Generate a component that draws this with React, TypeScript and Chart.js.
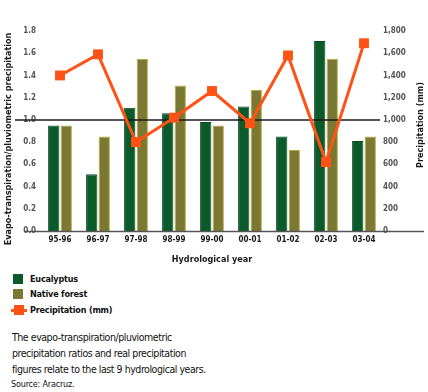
import React, { useEffect, useRef } from "react";
import { Chart, registerables } from "chart.js";

Chart.register(...registerables);

const categories = ["95-96", "96-97", "97-98", "98-99", "99-00", "00-01", "01-02", "02-03", "03-04"];
const eucalyptus = [0.95, 0.51, 1.11, 1.06, 0.98, 1.12, 0.85, 1.71, 0.81];
const nativeForest = [0.95, 0.85, 1.55, 1.31, 0.95, 1.27, 0.73, 1.55, 0.85];
const precipitation = [1400, 1590, 800, 1020, 1260, 970, 1580, 620, 1690];
const seriesNames = ["Eucalyptus", "Native forest", "Precipitation (mm)"];
const leftTitle = "Evapo-transpiration/pluviometric precipitation";
const rightTitle = "Precipitation (mm)";
const xTitle = "Hydrological year";
const captionLines = [
  "The evapo-transpiration/pluviometric",
  "precipitation ratios and real precipitation",
  "figures relate to the last 9 hydrological years.",
];
const sourceText = "Source: Aracruz.";

const GREEN = "#0b5a2a";
const OLIVE = "#7a7833";
const ORANGE = "#ff5214";
const FONT = "'DejaVu Sans Condensed', 'Liberation Sans Narrow', 'Liberation Sans', sans-serif";

function drawVerticalTitle(ctx: any, text: string, x: number, y: number) {
  ctx.save();
  ctx.translate(x, y);
  ctx.rotate(-Math.PI / 2);
  ctx.fillStyle = "#1a1a1a";
  ctx.font = "bold 9px " + FONT;
  ctx.textAlign = "center";
  ctx.textBaseline = "middle";
  ctx.fillText(text, 0, 0);
  ctx.restore();
}

const refLinesPlugin = {
  id: "refLines",
  beforeDatasetDraw(chart: any, args: any) {
    if (args.meta.type !== "line") return;
    const { ctx, chartArea, scales } = chart;
    const y1 = scales.y.getPixelForValue(1.0);
    ctx.save();
    ctx.strokeStyle = "#1a1a1a";
    ctx.lineWidth = 1.5;
    ctx.beginPath();
    ctx.moveTo(chartArea.left - 26, y1);
    ctx.lineTo(chartArea.right - 3, y1);
    ctx.stroke();
    ctx.restore();
  },
  afterDatasetsDraw(chart: any) {
    const { ctx, chartArea, scales } = chart;
    const y0 = scales.y.getPixelForValue(0);
    ctx.save();
    ctx.strokeStyle = "#555555";
    ctx.lineWidth = 1.5;
    ctx.beginPath();
    ctx.moveTo(chartArea.left - 16, y0 + 0.5);
    ctx.lineTo(chartArea.right + 41, y0 + 0.5);
    ctx.stroke();
    ctx.restore();
  },
  afterDraw(chart: any) {
    const { ctx, chartArea } = chart;
    const mid = (chartArea.top + chartArea.bottom) / 2;
    drawVerticalTitle(ctx, leftTitle, 9, mid + 8);
    drawVerticalTitle(ctx, rightTitle, chart.width - 7, mid - 6);
  },
};

export default function App() {
  const ref = useRef<HTMLCanvasElement | null>(null);
  useEffect(() => {
    if (!ref.current) return;
    const chart = new Chart(ref.current, {
      type: "bar",
      data: {
        labels: categories,
        datasets: [
          {
            type: "line",
            label: seriesNames[2],
            data: precipitation,
            yAxisID: "y1",
            borderColor: ORANGE,
            backgroundColor: ORANGE,
            borderWidth: 3,
            pointStyle: "rect",
            pointRadius: 7,
            pointBorderWidth: 0,
            tension: 0,
            order: 0,
          } as any,
          {
            type: "bar",
            label: seriesNames[0],
            data: eucalyptus,
            yAxisID: "y",
            backgroundColor: GREEN,
            borderColor: "#0a4a22",
            borderWidth: 1,
            categoryPercentage: 0.66,
            barPercentage: 0.9,
            order: 1,
          },
          {
            type: "bar",
            label: seriesNames[1],
            data: nativeForest,
            yAxisID: "y",
            backgroundColor: OLIVE,
            borderColor: "#b4ad3c",
            borderWidth: 1,
            categoryPercentage: 0.66,
            barPercentage: 0.9,
            order: 2,
          },
        ],
      },
      options: {
        animation: false,
        responsive: false,
        maintainAspectRatio: false,
        layout: { padding: { top: 31, left: 0, right: 0, bottom: 0 } },
        plugins: { legend: { display: false }, tooltip: { enabled: false } },
        scales: {
          x: {
            grid: { display: false, drawTicks: false },
            border: { display: false },
            ticks: { color: "#1a1a1a", font: { family: FONT, size: 8, weight: "bold" }, padding: 4 },
            title: {
              display: true,
              text: xTitle,
              color: "#1a1a1a",
              font: { family: FONT, size: 9, weight: "bold" },
              padding: { top: 7, bottom: 0 },
            },
            afterFit: (s: any) => {
              s.height = 34;
            },
          },
          y: {
            position: "left",
            min: 0,
            max: 1.8,
            grid: { display: false, drawTicks: false },
            border: { display: false },
            ticks: {
              stepSize: 0.2,
              color: "#555555",
              padding: 5,
              font: { family: FONT, size: 8, weight: "bold" },
              callback: (v: any) => Number(v).toFixed(1),
            },
            title: { display: false },
            afterFit: (s: any) => {
              s.width = 41;
            },
          },
          y1: {
            position: "right",
            min: 0,
            max: 1800,
            grid: { display: false, drawTicks: false },
            border: { display: false },
            ticks: {
              stepSize: 200,
              color: "#555555",
              padding: 0,
              font: { family: FONT, size: 8, weight: "bold" },
              callback: (v: any) => Number(v).toLocaleString("en-US"),
            },
            title: { display: false },
            afterFit: (s: any) => {
              s.width = 45;
            },
          },
        },
      },
      plugins: [refLinesPlugin],
    });
    return () => chart.destroy();
  }, []);

  const legendText: React.CSSProperties = {
    position: "absolute",
    left: 30,
    fontFamily: FONT,
    fontWeight: "bold",
    fontSize: 9,
    letterSpacing: "-0.2px",
    color: "#111",
    lineHeight: "12px",
  };

  return (
    <div style={{ position: "absolute", left: 0, top: 0, width: 428, height: 392, background: "#fff", overflow: "hidden" }}>
      <canvas ref={ref} width={428} height={265} style={{ position: "absolute", left: 0, top: 0, width: 428, height: 265 }} />
      <div style={{ position: "absolute", left: 13, top: 274, width: 10, height: 10, background: GREEN }} />
      <div style={{ ...legendText, top: 273 }}>{seriesNames[0]}</div>
      <div style={{ position: "absolute", left: 13, top: 289, width: 10, height: 10, background: OLIVE }} />
      <div style={{ ...legendText, top: 288 }}>{seriesNames[1]}</div>
      <div style={{ position: "absolute", left: 11, top: 309, width: 16, height: 3, background: ORANGE }} />
      <div style={{ position: "absolute", left: 14, top: 305, width: 10, height: 10, background: ORANGE }} />
      <div style={{ ...legendText, top: 304 }}>{seriesNames[2]}</div>
      <div
        style={{
          position: "absolute",
          left: 12,
          top: 329,
          fontFamily: FONT,
          fontSize: 10.5,
          letterSpacing: "-0.45px",
          lineHeight: "16px",
          color: "#111",
        }}
      >
        {captionLines.map((l, i) => (
          <div key={i}>{l}</div>
        ))}
      </div>
      <div
        style={{
          position: "absolute",
          left: 11,
          top: 378,
          fontFamily: FONT,
          fontSize: 9,
          letterSpacing: "-0.2px",
          lineHeight: "12px",
          color: "#111",
        }}
      >
        {sourceText}
      </div>
    </div>
  );
}
